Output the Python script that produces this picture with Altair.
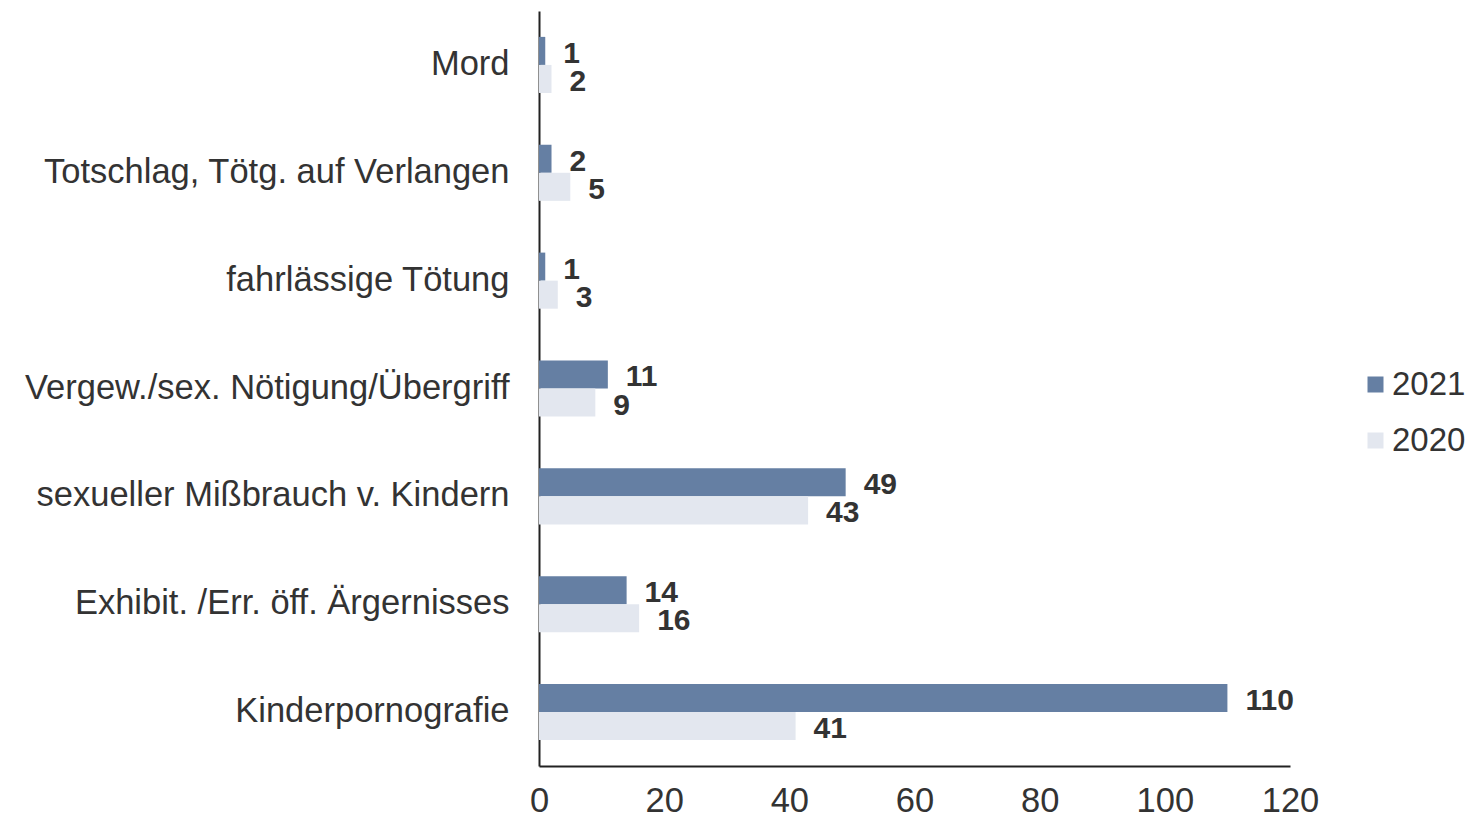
import altair as alt
import pandas as pd

categories = [
    "Mord",
    "Totschlag, Tötg. auf Verlangen",
    "fahrlässige Tötung",
    "Vergew./sex. Nötigung/Übergriff",
    "sexueller Mißbrauch v. Kindern",
    "Exhibit. /Err. öff. Ärgernisses",
    "Kinderpornografie",
]
values_2021 = [1, 2, 1, 11, 49, 14, 110]
values_2020 = [2, 5, 3, 9, 43, 16, 41]
years = ["2021", "2020"]
colors = ["#657fa3", "#e3e7ef"]
x_ticks = [0, 20, 40, 60, 80, 100, 120]

rows = []
for c, a, b in zip(categories, values_2021, values_2020):
    rows.append({"cat": c, "year": "2021", "value": a})
    rows.append({"cat": c, "year": "2020", "value": b})
df = pd.DataFrame(rows)

FONT = "Liberation Sans"
TXT = "#333333"

y_enc = alt.Y("cat:N", sort=categories, title=None,
              scale=alt.Scale(paddingInner=0.48, paddingOuter=0.24),
              axis=alt.Axis(ticks=False, domain=True, domainColor="#222222", domainWidth=2,
                            labelFontSize=34.5, labelColor=TXT, labelFont=FONT,
                            labelPadding=30, labelLimit=600))
yoff = alt.YOffset("year:N", sort=years, scale=alt.Scale(paddingInner=0, paddingOuter=0))
x_enc = alt.X("value:Q", title=None,
              scale=alt.Scale(domain=[0, 120], nice=False),
              axis=alt.Axis(values=x_ticks, ticks=False, grid=False, domain=True,
                            domainColor="#222222", domainWidth=2, labelFlush=False,
                            labelFontSize=34.5, labelColor=TXT, labelFont=FONT,
                            labelPadding=18))

bars = alt.Chart(df).mark_bar().encode(
    x=x_enc, y=y_enc, yOffset=yoff,
    color=alt.Color("year:N", sort=years,
                    scale=alt.Scale(domain=years, range=colors),
                    legend=alt.Legend(title=None, orient="none", legendX=820, legendY=357,
                                      symbolType="square", symbolSize=256,
                                      labelFontSize=33, labelFont=FONT, labelColor=TXT,
                                      rowPadding=22, labelOffset=0)),
)

labels = alt.Chart(df).mark_text(align="left", baseline="middle", dx=18, dy=3,
                                 fontSize=30, fontWeight="bold", font=FONT, color=TXT).encode(
    x="value:Q", y=alt.Y("cat:N", sort=categories), yOffset=yoff,
    text="value:Q",
)

chart = (bars + labels).properties(
    width=751, height=755,
    background="white",
    autosize=alt.AutoSizeParams(type="none"),
    padding={"left": 531, "top": 3, "right": 175, "bottom": 51},
).configure_view(strokeWidth=0, stroke="transparent")

chart.save("out.html", embed_options={"renderer": "svg", "actions": False})
